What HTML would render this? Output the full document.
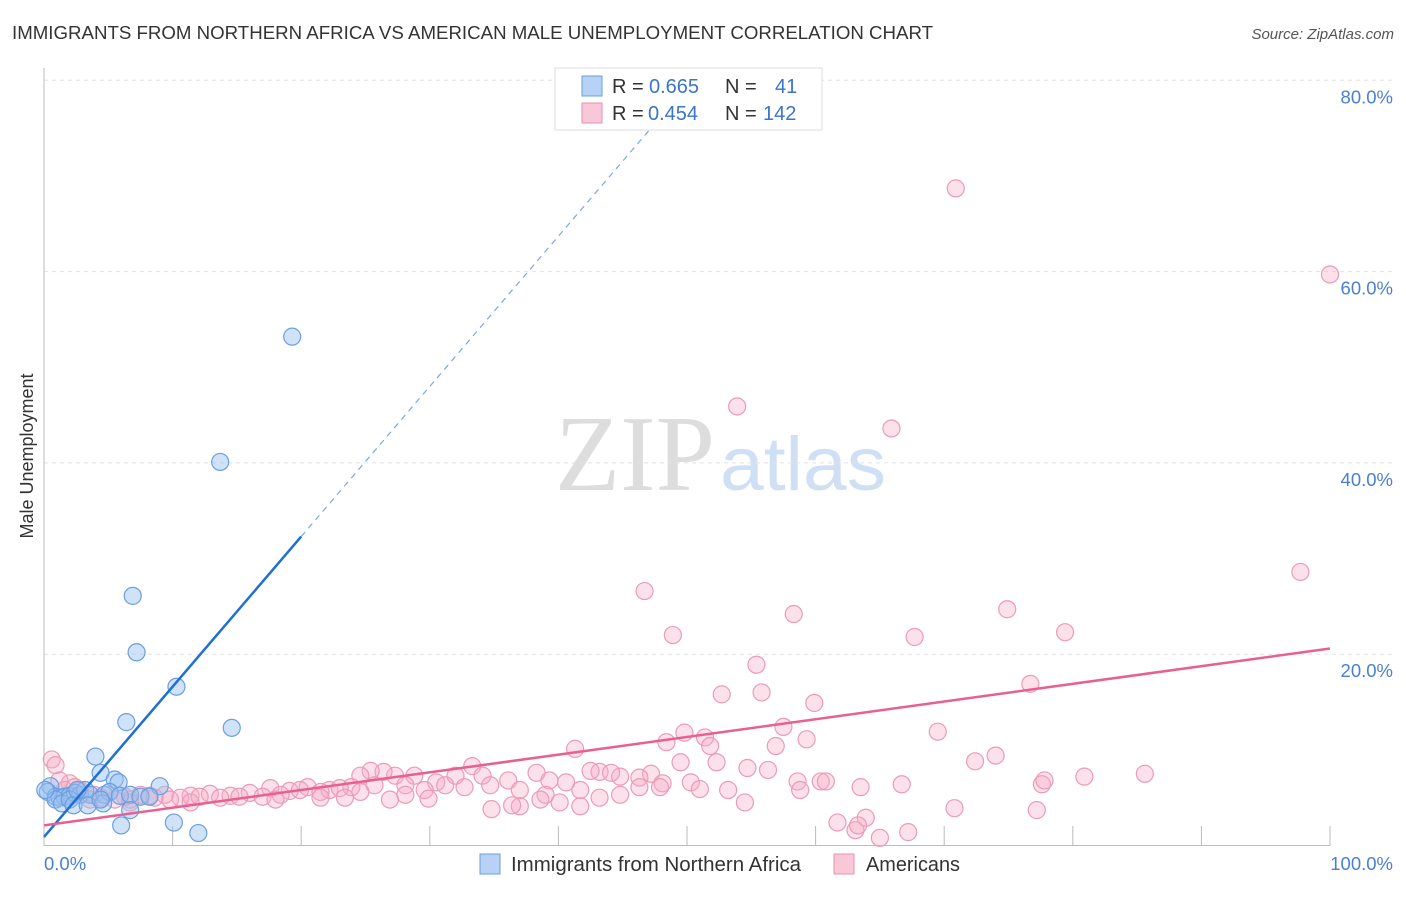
<!DOCTYPE html>
<html><head><meta charset="utf-8"><style>
body{margin:0;background:#fff;font-family:"Liberation Sans",sans-serif}
</style></head><body>
<svg id="c" width="1406" height="892" xmlns="http://www.w3.org/2000/svg">
<text x="12" y="39" font-size="18.5" fill="#333" textLength="921" lengthAdjust="spacingAndGlyphs">IMMIGRANTS FROM NORTHERN AFRICA VS AMERICAN MALE UNEMPLOYMENT CORRELATION CHART</text>
<text x="1394" y="39" font-size="15" fill="#555" font-style="italic" text-anchor="end">Source: ZipAtlas.com</text>
<text x="555" y="490" font-size="108" fill="#ddd" font-family="Liberation Serif,serif" textLength="160" lengthAdjust="spacingAndGlyphs">ZIP</text>
<text x="720" y="490" font-size="76" fill="#cfe0f5" textLength="166" lengthAdjust="spacingAndGlyphs">atlas</text>
<text transform="translate(33,456) rotate(-90)" font-size="18" fill="#333" text-anchor="middle">Male Unemployment</text>
<g id="grid"></g><g id="pts"></g><g id="lines"></g>
<g>
<rect x="555" y="68" width="267" height="62" fill="#fff" stroke="#ddd"/>
<rect x="582" y="76" width="20" height="20" fill="#b8d2f5" stroke="#6a9fe0"/>
<rect x="582" y="103" width="20" height="20" fill="#f8c8d8" stroke="#e890b0"/>
<g font-size="20" fill="#333">
<text x="612" y="93">R =</text><text x="649" y="93" fill="#3a74cc">0.665</text><text x="725" y="93">N =</text><text x="775" y="93" fill="#3a74cc">41</text></g>
<g font-size="20" fill="#333">
<text x="612" y="120">R =</text><text x="648" y="120" fill="#3a74cc">0.454</text><text x="725" y="120">N =</text><text x="763" y="120" fill="#3a74cc">142</text></g>
</g>
<g>
<rect x="480" y="854" width="20" height="20" fill="#b8d2f5" stroke="#6a9fe0"/>
<text x="511" y="871" font-size="20" fill="#333" textLength="290" lengthAdjust="spacingAndGlyphs">Immigrants from Northern Africa</text>
<rect x="834" y="854" width="20" height="20" fill="#f8c8d8" stroke="#e890b0"/>
<text x="866" y="871" font-size="20" fill="#333" textLength="94" lengthAdjust="spacingAndGlyphs">Americans</text>
</g>
</svg>
<script>
const blueX=[19.3,13.7,6.9,7.2,10.3,6.4,14.6,4.0,4.4,5.5,5.8,9.0,0.5,0.3,0.9,1.2,1.6,2.0,2.4,2.8,3.2,3.6,4.7,5.1,5.9,6.7,7.5,8.2,0.9,1.4,2.0,2.3,3.4,4.6,6.7,6.0,10.1,12.0,0.1,2.6,4.4];
const blueY=[53.2,40.1,26.1,20.2,16.6,12.9,12.3,9.3,7.6,6.9,6.6,6.2,6.2,5.6,5.1,5.0,5.1,5.2,5.5,5.3,5.8,5.3,5.3,5.6,5.2,5.3,5.1,5.1,4.8,4.4,4.8,4.2,4.2,4.4,3.7,2.1,2.4,1.3,5.8,5.8,4.8];
const pinkX=[70.9,100,53.9,65.9,97.7,46.7,58.3,74.9,48.9,67.7,79.4,55.4,76.7,52.7,55.8,59.9,57.5,69.5,49.8,51.4,48.4,51.8,59.3,41.3,56.9,72.4,74.0,33.3,52.3,49.5,54.7,56.3,38.3,47.2,85.6,80.9,60.4,60.8,58.6,50.3,48.1,44.8,43.2,42.5,46.3,44.1,40.6,39.3,36.1,34.1,32.0,30.5,28.8,27.3,26.4,25.4,24.6,23.9,22.2,20.5,19.1,17.6,16.0,14.5,12.9,11.4,10.6,9.4,8.2,7.5,6.3,5.1,3.9,2.8,2.0,1.2,0.6,0.9,1.6,3.6,6.7,9.8,12.1,15.2,18.4,21.5,23.0,25.7,28.1,29.6,31.2,32.7,34.7,37.0,39.0,40.1,41.7,43.2,44.8,46.3,47.9,51.0,53.2,54.5,58.8,63.5,66.7,77.6,77.8,77.2,70.8,61.7,63.9,63.1,63.3,67.2,65.0,41.7,37.0,34.8,36.4,38.6,29.9,28.1,24.6,19.9,17.0,13.7,6.7,4.4,2.4,5.5,8.6,11.4,18.0,21.5,23.4,26.9];
const pinkY=[68.7,59.7,45.9,43.6,28.6,26.6,24.2,24.7,22.0,21.8,22.3,18.9,16.9,15.8,16.0,14.9,12.4,11.9,11.8,11.3,10.8,10.4,11.1,10.1,10.4,8.8,9.4,8.3,8.7,8.7,8.1,7.9,7.6,7.5,7.5,7.2,6.7,6.7,6.7,6.6,6.5,7.2,7.7,7.8,7.1,7.6,6.6,6.8,6.8,7.3,7.3,6.6,7.3,7.3,7.7,7.8,7.3,6.1,5.8,6.1,5.7,6.0,5.5,5.2,5.4,5.2,5.0,5.3,5.2,5.3,5.1,5.6,5.3,5.8,6.5,6.8,9.0,8.4,5.8,4.8,4.8,4.8,5.1,5.1,5.3,5.6,6.0,6.3,6.3,5.8,6.3,6.1,6.3,5.8,5.3,4.5,5.8,5.0,5.3,6.1,6.1,5.9,5.8,4.5,5.8,6.1,6.4,6.4,6.8,3.7,3.9,2.4,2.9,1.6,2.1,1.4,0.8,4.1,4.1,3.8,4.2,4.8,4.9,5.3,5.6,5.8,5.1,5.0,4.5,5.0,6.1,4.8,5.0,4.5,4.8,5.0,5.0,4.8];
const yTicks=[20,40,60,80];
const yTickLabels=["20.0%","40.0%","60.0%","80.0%"];
const xTicks=[10,20,30,40,50,60,70,80,90,100];
const blueTrend=[0.9,1.57]; // intercept, slope
const blueSolidEnd=20, blueDashEnd=47.5;
const pinkTrend=[2.1,0.185];
const NS="http://www.w3.org/2000/svg";
const sx=v=>44+v*12.86, sy=v=>845.5-v*9.565;
function mk(t,a,p){const e=document.createElementNS(NS,t);for(const k in a)e.setAttribute(k,a[k]);p.appendChild(e);return e;}
const grid=document.getElementById('grid');
yTicks.forEach((t,i)=>{
 const l=mk('line',{x1:44,x2:1394,y1:sy(t),y2:sy(t),stroke:'#e2e2e2','stroke-dasharray':'4,4'},grid);
 
 
 const tx=mk('text',{x:1393,y:sy(t)+23,'font-size':18.5,fill:'#4a7fd4','text-anchor':'end'},grid);
 tx.textContent=yTickLabels[i];
 
 
});
const ax=mk('path',{d:'M44,68 V845.5 H1330',stroke:'#bbb',fill:'none'},grid);


xTicks.forEach(t=>{const l=mk('line',{x1:sx(t),x2:sx(t),y1:826,y2:845.5,stroke:'#bbb'},grid);
 
 });
const x0=mk('text',{x:44,y:870,'font-size':18.5,fill:'#4a7fd4'},grid);x0.textContent='0.0%';


const x1=mk('text',{x:1393,y:870,'font-size':18.5,fill:'#4a7fd4','text-anchor':'end'},grid);x1.textContent='100.0%';


const pts=document.getElementById('pts');
pinkX.forEach((x,i)=>{const c=mk('circle',{cx:sx(x),cy:sy(pinkY[i]),r:8.5,fill:'rgba(246,170,196,0.35)',stroke:'#eb9bb8','stroke-width':1.2},pts);
 
 });
blueX.forEach((x,i)=>{const c=mk('circle',{cx:sx(x),cy:sy(blueY[i]),r:8.5,fill:'rgba(150,190,240,0.45)',stroke:'#6a9fe0','stroke-width':1.2},pts);
 
 });
const ln=document.getElementById('lines');
const bf=x=>blueTrend[0]+blueTrend[1]*x, pf=x=>pinkTrend[0]+pinkTrend[1]*x;
let l1=mk('line',{x1:sx(0),y1:sy(bf(0)),x2:sx(blueSolidEnd),y2:sy(bf(blueSolidEnd)),stroke:'#1f6fd6','stroke-width':2.5},ln);


let l2=mk('line',{x1:sx(blueSolidEnd),y1:sy(bf(blueSolidEnd)),x2:sx(blueDashEnd),y2:sy(bf(blueDashEnd)),stroke:'#7aa8e8','stroke-width':1.2,'stroke-dasharray':'6,5'},ln);


let l3=mk('line',{x1:sx(0),y1:sy(pf(0)),x2:sx(100),y2:sy(pf(100)),stroke:'#e8608f','stroke-width':2.5},ln);


</script>
</body></html>
